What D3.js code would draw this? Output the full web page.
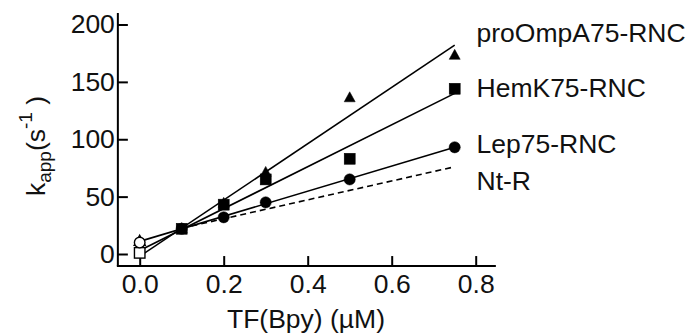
<!DOCTYPE html>
<html>
<head>
<meta charset="utf-8">
<script src="https://cdn.jsdelivr.net/npm/d3@7"></script>
<style>
  html, body { margin: 0; padding: 0; background: #fff; }
  svg { display: block; font-family: "Liberation Sans", Arial, Helvetica, sans-serif; }
</style>
</head>
<body>
<svg id="chart" width="689" height="335"></svg>
<script>
// ---- Data ----
const xValues = [0, 0.1, 0.2, 0.3, 0.5, 0.75];
const lepValues = [10, 22, 32, 45, 65, 93];
const hemkValues = [1, 22, 43, 65, 83, 144];
const proOmpAValues = [12, 23, 45, 72, 137, 174];

const fitX = [0, 0.75];
const lepFit = [11, 93];
const hemkFit = [3, 140];
const proOmpAFit = [-2, 182];
const ntrFitX = [0.1, 0.75];
const ntrFit = [22.5, 76];

const seriesNames = ["proOmpA75-RNC", "HemK75-RNC", "Lep75-RNC", "Nt-R"];
const xTicks = [0, 0.2, 0.4, 0.6, 0.8];
const yTicks = [0, 50, 100, 150, 200];
const xAxisExtent = [-0.052, 0.848];
const yAxisExtent = [-10.5, 210];

// ---- Scales ----
const svg = d3.select("#chart");
const x = d3.scaleLinear().domain([0, 0.8]).range([139.7, 475.7]);
const y = d3.scaleLinear().domain([0, 200]).range([254, 24.5]);
const FS = 26.5;

// ---- Axes ----
const xAxisY = y(yAxisExtent[0]);
const yAxisX = x(xAxisExtent[0]);

const gx = svg.append("g").attr("transform", `translate(0,${xAxisY})`)
  .call(d3.axisBottom(x).tickValues(xTicks).tickFormat(d3.format(".1f"))
    .tickSizeInner(-10).tickSizeOuter(0).tickPadding(8));
gx.select(".domain").remove();
gx.selectAll(".tick line").attr("stroke", "#000").attr("stroke-width", 2);
gx.selectAll(".tick text").attr("font-size", FS).attr("fill", "#111")
  .attr("font-family", "Liberation Sans, Arial, sans-serif");

const gy = svg.append("g").attr("transform", `translate(${yAxisX},0)`)
  .call(d3.axisLeft(y).tickValues(yTicks).tickFormat(d3.format("d"))
    .tickSizeInner(-10).tickSizeOuter(0).tickPadding(3));
gy.select(".domain").remove();
gy.selectAll(".tick line").attr("stroke", "#000").attr("stroke-width", 2);
gy.selectAll(".tick text").attr("font-size", FS).attr("fill", "#111")
  .attr("font-family", "Liberation Sans, Arial, sans-serif");

svg.append("line")
  .attr("x1", x(xAxisExtent[0]) - 1).attr("x2", x(xAxisExtent[1]))
  .attr("y1", xAxisY).attr("y2", xAxisY)
  .attr("stroke", "#000").attr("stroke-width", 2);
svg.append("line")
  .attr("x1", yAxisX).attr("x2", yAxisX)
  .attr("y1", y(yAxisExtent[0])).attr("y2", y(yAxisExtent[1]))
  .attr("stroke", "#000").attr("stroke-width", 2);

// ---- Fit lines ----
const lineGen = d3.line().x(d => x(d[0])).y(d => y(d[1]));
function fitLine(xs, vals, dashed) {
  svg.append("path")
    .datum(xs.map((xv, i) => [xv, vals[i]]))
    .attr("d", lineGen)
    .attr("fill", "none")
    .attr("stroke", "#000")
    .attr("stroke-width", 1.6)
    .attr("stroke-dasharray", dashed ? "6,4" : null);
}
fitLine(ntrFitX, ntrFit, true);
fitLine(fitX, lepFit, false);
fitLine(fitX, hemkFit, false);
fitLine(fitX, proOmpAFit, false);

// ---- Markers ----
function markers(vals, shape) {
  const pts = xValues.map((xv, i) => [xv, vals[i]]);
  const g = svg.append("g");
  pts.forEach(p => {
    const cx = x(p[0]), cy = y(p[1]);
    const open = p[0] === 0;
    const fill = open ? "#fff" : "#000";
    let el;
    if (shape === "circle") {
      el = g.append("circle").attr("cx", cx).attr("cy", cy).attr("r", open ? 5.3 : 5.6);
    } else if (shape === "square") {
      const s = open ? 10.5 : 11;
      el = g.append("rect").attr("x", cx - s / 2).attr("y", cy - s / 2).attr("width", s).attr("height", s);
    } else {
      const w = 11, h = 10;
      el = g.append("path").attr("d",
        `M${cx},${cy - h / 2}L${cx + w / 2},${cy + h / 2}L${cx - w / 2},${cy + h / 2}Z`);
    }
    el.attr("fill", fill).attr("stroke", "#000").attr("stroke-width", open ? 1.4 : 0.5);
  });
}
markers(proOmpAValues, "triangle");
markers(hemkValues, "square");
markers(lepValues, "circle");

// ---- Series labels ----
const labelEnds = [proOmpAFit[1], hemkValues[5], lepValues[5], ntrFit[1]];
const labelOffsets = [-3.5, 8, 6, 23];
seriesNames.forEach((name, i) => {
  svg.append("text")
    .attr("x", 476.5)
    .attr("y", y(labelEnds[i]) + labelOffsets[i])
    .attr("font-size", FS)
    .attr("fill", "#111")
    .text(name);
});

// ---- Axis titles ----
svg.append("text")
  .attr("x", 306).attr("y", 328)
  .attr("text-anchor", "middle")
  .attr("font-size", FS)
  .attr("fill", "#111")
  .text("TF(Bpy) (µM)");

const yt = svg.append("text")
  .attr("transform", "translate(45,146) rotate(-90)")
  .attr("text-anchor", "middle")
  .attr("font-size", FS)
  .attr("fill", "#111");
yt.append("tspan").text("k");
yt.append("tspan").attr("font-size", 19).attr("dy", 6).text("app");
yt.append("tspan").attr("dy", -6).text("(s");
yt.append("tspan").attr("font-size", 19).attr("dy", -13).text("-1");
yt.append("tspan").attr("dy", 13).text(" )");
</script>
</body>
</html>
